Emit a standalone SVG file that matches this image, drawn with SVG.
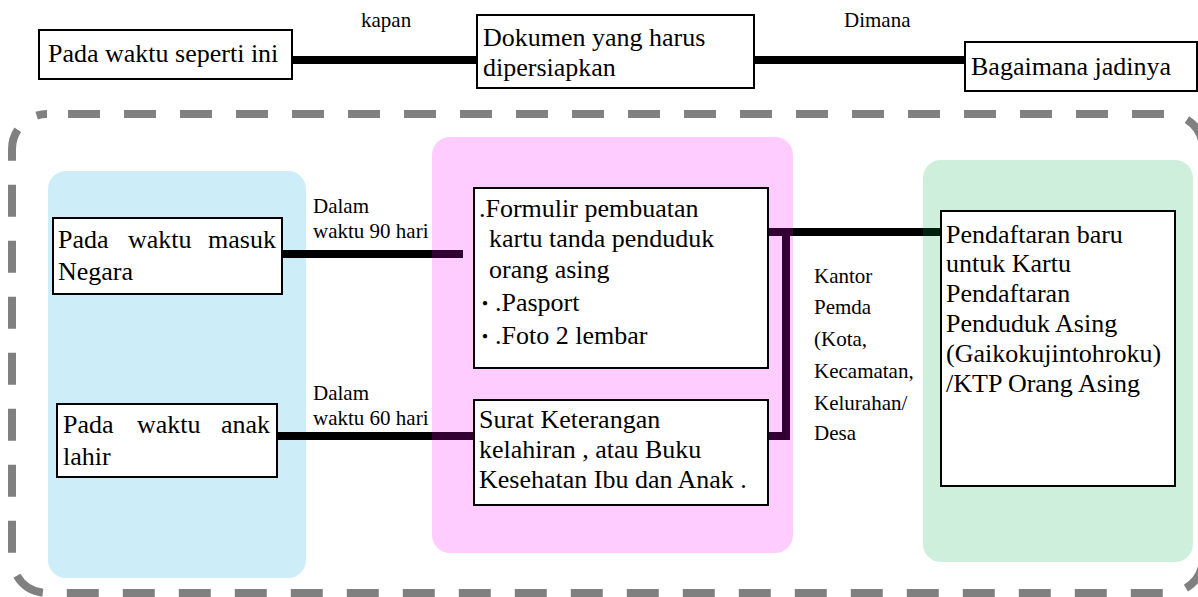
<svg xmlns="http://www.w3.org/2000/svg" width="1198" height="597" viewBox="0 0 1198 597">
  <style>
    .t { font-family: "Liberation Serif", "Times New Roman", Times, serif; fill: #000; }
    .big { font-size: 26px; }
    .lbl { font-size: 21px; }
    .cjk { font-family: "Noto Sans CJK JP", sans-serif; font-size: 20px; }
    .box { fill: #fff; stroke: #000; stroke-width: 2; }
    .wire { fill: none; stroke: #000; stroke-width: 8; }
  </style>
  <rect width="1198" height="597" fill="#fff"/>

  <!-- dashed outer border -->
  <rect id="frame" x="12" y="114" width="1191" height="479" rx="35" ry="35" fill="none" stroke="#808080" stroke-width="8" stroke-dasharray="32 24" stroke-dashoffset="35"/>

  <!-- blue panel (under lines) -->
  <rect id="panel-blue" x="48" y="171" width="258" height="407" rx="18" fill="#cdeef9"/>

  <!-- connectors -->
  <g id="connectors">
    <line class="wire" x1="292" y1="60" x2="477" y2="60"/>
    <line class="wire" x1="754" y1="60" x2="965" y2="60"/>
    <line class="wire" x1="282" y1="254" x2="463" y2="254"/>
    <line class="wire" x1="277" y1="436" x2="474" y2="436"/>
    <polyline class="wire" points="768,436 786,436 786,232"/>
    <line class="wire" x1="768" y1="232" x2="941" y2="232"/>
    <text class="t lbl" x="361" y="27">kapan</text>
    <text class="t lbl" x="844" y="27">Dimana</text>
    <text class="t lbl" x="313" y="213">Dalam</text>
    <text class="t lbl" x="313" y="238">waktu 90 hari</text>
    <text class="t lbl" x="313" y="400">Dalam</text>
    <text class="t lbl" x="313" y="425">waktu 60 hari</text>
    <text class="t lbl" x="814" y="283">Kantor</text>
    <text class="t lbl" x="814" y="314">Pemda</text>
    <text class="t lbl" x="814" y="346">(Kota,</text>
    <text class="t lbl" x="814" y="378">Kecamatan,</text>
    <text class="t lbl" x="814" y="410">Kelurahan/</text>
    <text class="t lbl" x="814" y="440">Desa</text>
  </g>

  <!-- translucent panels over the lines -->
  <rect id="panel-pink" x="432" y="137" width="361" height="416" rx="18" fill="#ff00ff" fill-opacity="0.2"/>
  <rect id="panel-green" x="923" y="160" width="270" height="402" rx="18" fill="#00aa4b" fill-opacity="0.19"/>

  <!-- top row nodes -->
  <g id="node-when">
    <rect class="box" x="39" y="30" width="253" height="49"/>
    <text class="t big" x="48" y="62">Pada waktu seperti ini</text>
  </g>
  <g id="node-docs">
    <rect class="box" x="477" y="15" width="277" height="73"/>
    <text class="t big" x="483" y="46">Dokumen yang harus</text>
    <text class="t big" x="483" y="76">dipersiapkan</text>
  </g>
  <g id="node-result">
    <rect class="box" x="965" y="42" width="232" height="49"/>
    <text class="t big" x="971" y="75">Bagaimana jadinya</text>
  </g>

  <!-- left nodes -->
  <g id="node-entry">
    <rect class="box" x="53" y="218" width="229" height="76"/>
    <text class="t big" x="58" y="248">Pada</text>
    <text class="t big" x="128" y="248">waktu</text>
    <text class="t big" x="276" y="248" text-anchor="end">masuk</text>
    <text class="t big" x="58" y="280">Negara</text>
  </g>
  <g id="node-birth">
    <rect class="box" x="57" y="404" width="220" height="73"/>
    <text class="t big" x="63" y="433">Pada</text>
    <text class="t big" x="137" y="433">waktu</text>
    <text class="t big" x="270" y="433" text-anchor="end">anak</text>
    <text class="t big" x="63" y="465">lahir</text>
  </g>

  <!-- middle nodes -->
  <g id="node-form">
    <rect class="box" x="474" y="188" width="294" height="180"/>
    <text class="t big" x="479" y="217">.Formulir pembuatan</text>
    <text class="t big" x="489" y="247">kartu tanda penduduk</text>
    <text class="t big" x="489" y="278">orang asing</text>
    <text class="t big" x="475" y="311"><tspan class="cjk">・</tspan>.Pasport</text>
    <text class="t big" x="475" y="344"><tspan class="cjk">・</tspan>.Foto 2 lembar</text>
  </g>
  <g id="node-birthcert">
    <rect class="box" x="474" y="400" width="294" height="105"/>
    <text class="t big" x="479" y="428">Surat Keterangan</text>
    <text class="t big" x="479" y="458">kelahiran , atau Buku</text>
    <text class="t big" x="479" y="488">Kesehatan Ibu dan Anak .</text>
  </g>

  <!-- right node -->
  <g id="node-registration">
    <rect class="box" x="941" y="211" width="234" height="275"/>
    <text class="t big" x="946" y="243">Pendaftaran baru</text>
    <text class="t big" x="946" y="272">untuk Kartu</text>
    <text class="t big" x="946" y="302">Pendaftaran</text>
    <text class="t big" x="946" y="332">Penduduk Asing</text>
    <text class="t big" x="946" y="362">(Gaikokujintohroku)</text>
    <text class="t big" x="946" y="392">/KTP Orang Asing</text>
  </g>
</svg>
